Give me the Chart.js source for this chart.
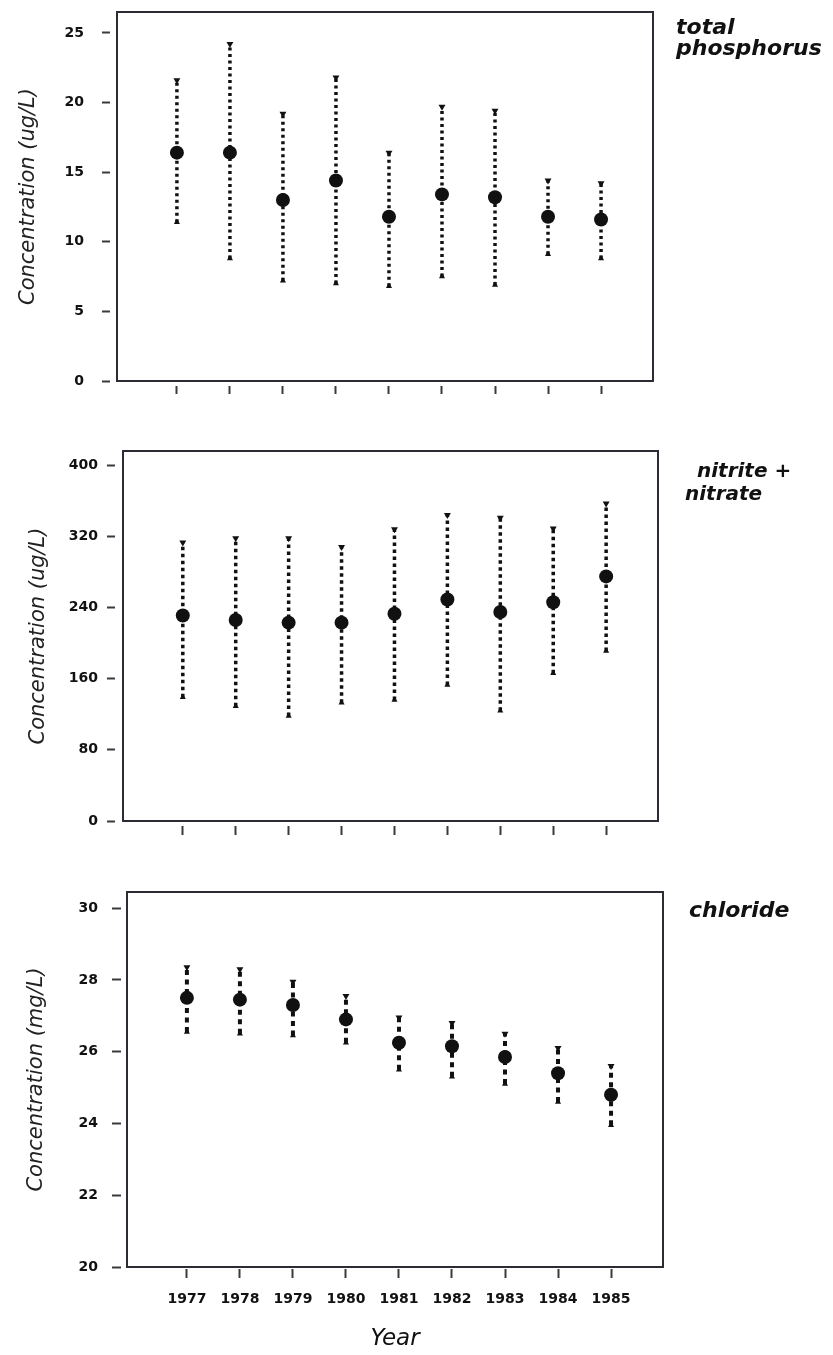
<!DOCTYPE html>
<html>
<head>
<meta charset="utf-8">
<script src="https://cdn.jsdelivr.net/npm/chart.js@4.4.1/dist/chart.umd.min.js"></script>
<style>
  body { margin: 0; background: #fff; width: 833px; height: 1355px; position: relative; overflow: hidden; }
  .panel { position: absolute; left: 0; width: 833px; }
  .label { position: absolute; font-family: "DejaVu Sans"; font-weight: bold; font-style: italic; color: #111; white-space: nowrap; }
</style>
</head>
<body>
<div class="panel" style="top:0;height:420px"><canvas id="tp"></canvas></div>
<div class="panel" style="top:440px;height:420px"><canvas id="nn"></canvas></div>
<div class="panel" style="top:880px;height:475px"><canvas id="cl"></canvas></div>

<div class="label" style="left:676px;top:16px;font-size:22px;line-height:22px">total</div>
<div class="label" style="left:676px;top:37px;font-size:22px;line-height:22px">phosphorus</div>
<div class="label" style="left:697px;top:460px;font-size:20px;line-height:20px">nitrite +</div>
<div class="label" style="left:685px;top:483px;font-size:20px;line-height:20px">nitrate</div>
<div class="label" style="left:689px;top:899px;font-size:22px;line-height:22px">chloride</div>

<script>
const years = [1977, 1978, 1979, 1980, 1981, 1982, 1983, 1984, 1985];

// total phosphorus (ug/L)
const tpMean = [16.4, 16.4, 13.0, 14.4, 11.8, 13.4, 13.2, 11.8, 11.6];
const tpHigh = [21.6, 24.2, 19.2, 21.8, 16.4, 19.7, 19.4, 14.4, 14.2];
const tpLow = [11.4, 8.8, 7.2, 7.0, 6.8, 7.5, 6.9, 9.1, 8.8];
const tpTicks = [0, 5, 10, 15, 20, 25];

// nitrite + nitrate (ug/L)
const nnMean = [231, 226, 223, 223, 233, 249, 235, 246, 275];
const nnHigh = [313, 318, 318, 308, 328, 344, 341, 329, 357];
const nnLow = [139, 129, 118, 133, 136, 153, 124, 166, 191];
const nnTicks = [0, 80, 160, 240, 320, 400];

// chloride (mg/L)
const clMean = [27.5, 27.45, 27.3, 26.9, 26.25, 26.15, 25.85, 25.4, 24.8];
const clHigh = [28.35, 28.3, 27.95, 27.55, 26.95, 26.8, 26.5, 26.1, 25.6];
const clLow = [26.55, 26.5, 26.45, 26.25, 25.5, 25.3, 25.1, 24.6, 23.95];
const clTicks = [20, 22, 24, 26, 28, 30];

const ink = '#111';
const tickInk = '#3a3a3a';

// box round the plot area
const framePlugin = {
    id: 'frame',
    beforeDatasetsDraw(chart) {
        const { ctx, chartArea: a } = chart;
        ctx.save();
        ctx.strokeStyle = '#2c2c34';
        ctx.lineWidth = 2;
        ctx.strokeRect(a.left, a.top, a.right - a.left, a.bottom - a.top);
        ctx.restore();
    }
};

function pts(values) {
    return years.map((x, i) => ({ x: x, y: values[i] }));
}

// one broken line: low -> high for each year, null between them
function bars(low, high) {
    const out = [];
    years.forEach((x, i) => {
        out.push({ x: x, y: low[i] }, { x: x, y: high[i] }, { x: x, y: null });
    });
    return out;
}

function makeChart(id, o) {
    const ctx = document.getElementById(id);
    return new Chart(ctx, {
        type: 'scatter',
        data: {
            datasets: [
                { data: pts(o.mean), pointRadius: 7, backgroundColor: ink, borderWidth: 0 },
                { data: pts(o.high), pointStyle: 'triangle', pointRotation: 180, pointRadius: 4, backgroundColor: ink, borderWidth: 0 },
                { data: pts(o.low), pointStyle: 'triangle', pointRadius: 3.5, backgroundColor: ink, borderWidth: 0 },
                {
                    data: bars(o.low, o.high), showLine: true, spanGaps: false, pointRadius: 0,
                    borderColor: ink, borderWidth: o.barWidth, borderDash: o.dash
                }
            ]
        },
        options: {
            responsive: true,
            maintainAspectRatio: false,
            animation: false,
            devicePixelRatio: 1,
            layout: { padding: { top: o.top, right: o.right, left: 0, bottom: 0 } },
            plugins: { legend: { display: false }, tooltip: { enabled: false } },
            scales: {
                x: {
                    type: 'linear',
                    min: 1975.87,
                    max: 1985.98,
                    afterBuildTicks: s => { s.ticks = years.map(v => ({ value: v })); },
                    afterFit: s => {
                        s.height = o.xHeight;
                        s.paddingLeft = 0;
                        s.paddingRight = 0;
                    },
                    border: { display: false },
                    grid: {
                        drawOnChartArea: false,
                        tickLength: o.xGap + o.xLen,
                        tickWidth: 2,
                        tickColor: tickInk,
                        tickBorderDash: [o.xLen, o.xGap],
                        tickBorderDashOffset: o.xLen
                    },
                    ticks: {
                        display: o.xLabels,
                        padding: 13,
                        color: ink,
                        font: { family: 'DejaVu Sans', weight: 'bold', size: 14 },
                        callback: v => String(v)
                    },
                    title: {
                        display: o.xLabels,
                        text: 'Year',
                        color: ink,
                        font: { family: 'DejaVu Sans', style: 'italic', size: 23 },
                        padding: { top: 0, bottom: 2 }
                    }
                },
                y: {
                    min: o.yMin,
                    max: o.yMax,
                    afterBuildTicks: s => { s.ticks = o.yTicks.map(v => ({ value: v })); },
                    afterFit: s => {
                        s.width = o.yWidth;
                        // labels near the edges must not push the plot area
                        s.paddingTop = 0;
                        s.paddingBottom = 0;
                    },
                    border: { display: false },
                    grid: {
                        drawOnChartArea: false,
                        tickLength: o.yGap + o.yLen,
                        tickWidth: 2,
                        tickColor: tickInk,
                        tickBorderDash: [o.yLen, o.yGap]
                    },
                    ticks: {
                        padding: o.yPad,
                        color: ink,
                        font: { family: 'DejaVu Sans', weight: 'bold', size: 14 },
                        callback: v => String(v)
                    },
                    title: {
                        display: true,
                        text: o.yTitle,
                        color: '#222',
                        font: { family: 'DejaVu Sans', style: 'italic', size: 21 },
                        padding: { top: o.titlePad, bottom: 0 }
                    }
                }
            }
        },
        plugins: [framePlugin]
    });
}

makeChart('tp', {
    mean: tpMean, high: tpHigh, low: tpLow, yTicks: tpTicks,
    yMin: 0, yMax: 26.5, yTitle: 'Concentration (ug/L)',
    top: 12, right: 180, xHeight: 39, yWidth: 117,
    xGap: 5, xLen: 8, yGap: 7, yLen: 8, yPad: 18, titlePad: 16,
    barWidth: 3.5, dash: [3, 3.5], xLabels: false
});

makeChart('nn', {
    mean: nnMean, high: nnHigh, low: nnLow, yTicks: nnTicks,
    yMin: 0, yMax: 416, yTitle: 'Concentration (ug/L)',
    top: 11, right: 175, xHeight: 39, yWidth: 123,
    xGap: 5, xLen: 9, yGap: 8, yLen: 8, yPad: 9, titlePad: 26,
    barWidth: 3.5, dash: [3.5, 3.5], xLabels: false
});

makeChart('cl', {
    mean: clMean, high: clHigh, low: clLow, yTicks: clTicks,
    yMin: 20, yMax: 30.45, yTitle: 'Concentration (mg/L)',
    top: 12, right: 170, xHeight: 88, yWidth: 127,
    xGap: 2, xLen: 9, yGap: 6, yLen: 9, yPad: 14, titlePad: 24,
    barWidth: 4, dash: [5, 4.5], xLabels: true
});
</script>
</body>
</html>
